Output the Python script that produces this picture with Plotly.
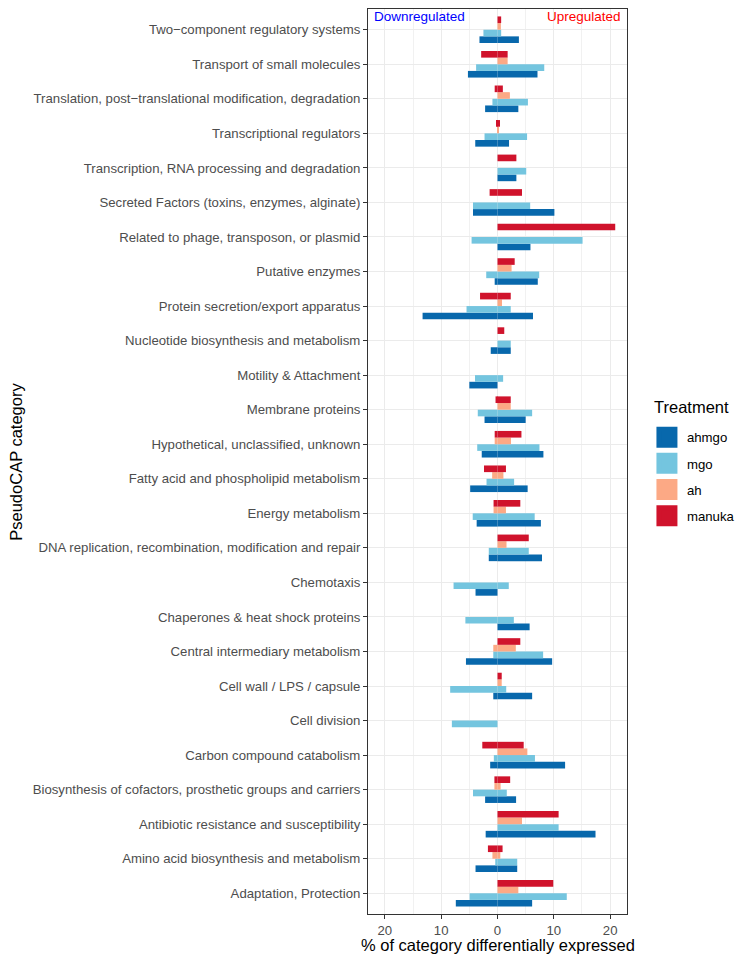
import plotly.graph_objects as go

# Categories listed top-to-bottom as in the chart
categories_top_down = [
    "Two−component regulatory systems",
    "Transport of small molecules",
    "Translation, post−translational modification, degradation",
    "Transcriptional regulators",
    "Transcription, RNA processing and degradation",
    "Secreted Factors (toxins, enzymes, alginate)",
    "Related to phage, transposon, or plasmid",
    "Putative enzymes",
    "Protein secretion/export apparatus",
    "Nucleotide biosynthesis and metabolism",
    "Motility & Attachment",
    "Membrane proteins",
    "Hypothetical, unclassified, unknown",
    "Fatty acid and phospholipid metabolism",
    "Energy metabolism",
    "DNA replication, recombination, modification and repair",
    "Chemotaxis",
    "Chaperones & heat shock proteins",
    "Central intermediary metabolism",
    "Cell wall / LPS / capsule",
    "Cell division",
    "Carbon compound catabolism",
    "Biosynthesis of cofactors, prosthetic groups and carriers",
    "Antibiotic resistance and susceptibility",
    "Amino acid biosynthesis and metabolism",
    "Adaptation, Protection",
]

# % of category downregulated (magnitudes) / upregulated, same order
ahmgo_down = [3.2, 5.25, 2.2, 3.95, 0, 4.35, 0, 0.5, 13.3, 1.2, 5.0, 2.3, 2.8, 4.85, 3.7, 1.55, 3.9, 0, 5.6, 0.75, 0, 1.3, 2.2, 2.1, 3.9, 7.4]
ahmgo_up   = [3.8, 7.1, 3.7, 2.05, 3.35, 10.1, 5.85, 7.15, 6.3, 2.35, 0, 5.0, 8.15, 5.35, 7.7, 7.9, 0, 5.7, 9.7, 6.15, 0, 12.0, 3.3, 17.4, 3.5, 6.15]
mgo_down   = [2.5, 3.8, 0.9, 2.3, 0, 4.35, 4.6, 2.0, 5.5, 0, 4.0, 3.5, 3.6, 1.95, 4.4, 1.55, 7.8, 5.7, 0.75, 8.4, 8.1, 0.65, 4.35, 0, 0.4, 4.95]
mgo_up     = [0.65, 8.3, 5.4, 5.25, 5.1, 5.8, 15.1, 7.4, 2.35, 2.35, 1.0, 6.15, 7.45, 2.95, 6.6, 5.55, 2.0, 2.9, 8.1, 1.55, 0, 6.65, 1.65, 10.85, 3.5, 12.3]
ah_down    = [0, 0, 0, 0, 0, 0, 0, 0, 0, 0, 0, 0, 0.5, 0.95, 0.7, 0, 0, 0, 0.75, 0, 0, 0, 0.55, 0, 0.9, 0]
ah_up      = [0.6, 1.8, 2.2, 0.2, 0, 0, 0, 2.5, 0.8, 0, 0, 2.35, 2.4, 1.05, 1.5, 1.6, 0, 0, 3.25, 0.75, 0, 5.3, 0.55, 4.35, 0.5, 3.7]
manuka_down = [0, 2.9, 0.5, 0.25, 0, 1.4, 0, 0, 3.1, 0, 0, 0.35, 0.5, 2.4, 0.7, 0, 0, 0, 0, 0, 0, 2.7, 0.55, 0, 1.7, 0]
manuka_up   = [0.65, 1.8, 0.95, 0.45, 3.35, 4.35, 20.9, 3.05, 2.35, 1.2, 0, 2.35, 4.25, 1.5, 4.05, 5.55, 0, 0, 4.05, 0.75, 0, 4.65, 2.25, 10.85, 0.9, 9.9]

treatments = ["ahmgo", "mgo", "ah", "manuka"]
colors = ["#0868AC", "#74C5DF", "#FCA985", "#D0132C"]
series = {
    "ahmgo": (ahmgo_down, ahmgo_up),
    "mgo": (mgo_down, mgo_up),
    "ah": (ah_down, ah_up),
    "manuka": (manuka_down, manuka_up),
}

x_tickvals = [-20, -10, 0, 10, 20]
x_ticktext = ["20", "10", "0", "10", "20"]

cats = categories_top_down[::-1]  # bottom-to-top for plotly

fig = go.Figure()
for name, col in zip(treatments, colors):
    down, up = series[name]
    down_b = [-v for v in down[::-1]]
    up_b = up[::-1]
    fig.add_trace(go.Bar(y=cats, x=down_b, orientation="h", name=name,
                         marker=dict(color=col, line=dict(width=0)),
                         offsetgroup=name, showlegend=False, legendgroup=name))
    fig.add_trace(go.Bar(y=cats, x=up_b, orientation="h", name=name,
                         marker=dict(color=col, line=dict(width=0)),
                         offsetgroup=name, showlegend=False, legendgroup=name))
    # legend proxy
    fig.add_trace(go.Scatter(x=[None], y=[None], mode="markers", name=name,
                             marker=dict(symbol="square", size=16, color=col,
                                         line=dict(width=7, color=col)),
                             legendgroup=name, showlegend=True))

font_family = "Liberation Sans, Arial, sans-serif"

fig.add_vline(x=0, line=dict(color="rgba(230,0,0,0.15)", width=1), layer="below")

fig.update_layout(
    width=743, height=957,
    margin=dict(l=360, r=124, t=1, b=51),
    paper_bgcolor="white", plot_bgcolor="white",
    barmode="relative", bargap=0.23, bargroupgap=0,
    font=dict(family=font_family, color="#000000"),
    legend=dict(
        font=dict(size=13.2, color="#000"),
        x=1.077, xanchor="left", y=0.5435, yanchor="top",
        tracegroupgap=6, itemsizing="trace",
        bgcolor="rgba(0,0,0,0)",
    ),
    xaxis=dict(
        range=[-22.99, 22.99], tickvals=x_tickvals, ticktext=x_ticktext,
        automargin=False,
        showgrid=True, gridcolor="#EBEBEB", gridwidth=1.1,
        minor=dict(tickvals=[-15, -5, 5, 15], showgrid=True, gridcolor="#F1F1F1", gridwidth=0.6, ticks=""),
        zeroline=False, showline=True, mirror=True, linecolor="#333333", linewidth=1,
        ticks="outside", ticklen=4, tickcolor="#333333", tickwidth=1,
        tickfont=dict(size=13.2, color="#4D4D4D"),
    ),
    yaxis=dict(
        type="category", categoryorder="array", categoryarray=cats,
        range=[-0.6, len(cats) - 0.4], automargin=False,
        showgrid=True, gridcolor="#EBEBEB", gridwidth=1.1,
        zeroline=False, showline=True, mirror=True, linecolor="#333333", linewidth=1,
        ticks="outside", ticklen=4, tickcolor="#333333", tickwidth=1,
        tickfont=dict(size=13.2, color="#4D4D4D"),
    ),
    annotations=[
        dict(text="Downregulated", xref="paper", yref="paper", x=0.016, y=0.992,
             xanchor="left", yanchor="middle", showarrow=False,
             font=dict(size=13.5, color="#0000FF")),
        dict(text="Upregulated", xref="paper", yref="paper", x=0.984, y=0.992,
             xanchor="right", yanchor="middle", showarrow=False,
             font=dict(size=13.5, color="#FF0000")),
        dict(text="% of category differentially expressed", xref="paper", yref="paper",
             x=0.5, y=-0.034, xanchor="center", yanchor="middle", showarrow=False,
             font=dict(size=16.5, color="#000")),
        dict(text="PseudoCAP category", xref="paper", yref="paper",
             x=-1.362, y=0.5, xanchor="center", yanchor="middle", showarrow=False,
             textangle=-90, font=dict(size=16.5, color="#000")),
        dict(text="Treatment", xref="paper", yref="paper",
             x=1.098, y=0.560, xanchor="left", yanchor="middle", showarrow=False,
             font=dict(size=16.5, color="#000")),
    ],
)

fig.write_html("out.html")
